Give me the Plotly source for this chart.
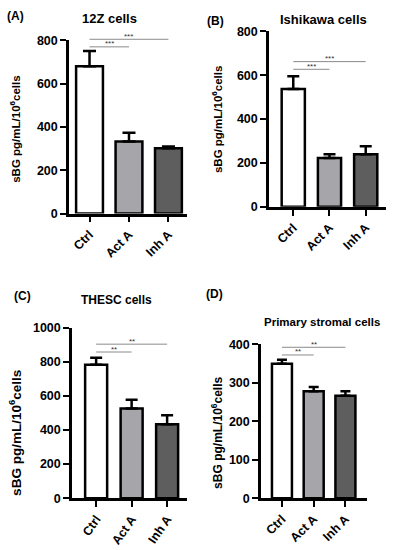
import plotly.graph_objects as go

categories = ["Ctrl", "Act A", "Inh A"]
bar_colors = ["#ffffff", "#a6a5aa", "#5e5e5e"]

panel_titles = ["12Z cells", "Ishikawa cells", "THESC cells", "Primary stromal cells"]
panel_labels = ["(A)", "(B)", "(C)", "(D)"]

means_a = [679, 333, 301]
errs_a = [71, 40, 9]
means_b = [537, 222, 240]
errs_b = [58, 18, 36]
means_c = [783, 526, 434]
errs_c = [40, 51, 52]
means_d = [349, 278, 266]
errs_d = [10.5, 11, 12]

yticks_a = [0, 200, 400, 600, 800]
yticks_b = [0, 200, 400, 600, 800]
yticks_c = [0, 200, 400, 600, 800, 1000]
yticks_d = [0, 100, 200, 300, 400]

sig_text = ["***", "***", "**", "**"]
sig_levels_a = [769, 804]
sig_levels_b = [627, 662]
sig_levels_c = [857, 903]
sig_levels_d = [372, 392]

ytitle = "sBG pg/mL/10<sup>6</sup>cells"
FONT = "Arial, Liberation Sans, sans-serif"

panels = [
    dict(means=means_a, errs=errs_a, ticks=yticks_a, sig=sig_levels_a,
         xdom=[69/394, 187/394], ydom=[1-212/550, 1-34/550], xr=[-0.52, 2.47],
         bw=0.68, cap=6.5, tangle=-45, title_xy=(109/394, 1-12/550, 13), lab_xy=(5/394, 1-9/550),
         yt_xy=(15/394, 1-126/550, 11.5)),
    dict(means=means_b, errs=errs_b, ticks=yticks_b, sig=sig_levels_b,
         xdom=[269/394, 386/394], ydom=[1-205/550, 1-25/550], xr=[-0.67, 2.56],
         bw=0.64, cap=6, tangle=-45, title_xy=(323/394, 1-13/550, 13), lab_xy=(205/394, 1-14/550),
         yt_xy=(217/394, 1-116/550, 11.5)),
    dict(means=means_c, errs=errs_c, ticks=yticks_c, sig=sig_levels_c,
         xdom=[72/394, 187/394], ydom=[1-504/550, 1-329/550], xr=[-0.68, 2.56],
         bw=0.62, cap=6, tangle=-55, title_xy=(116/394, 1-301/550, 12), lab_xy=(12/394, 1-297/550),
         yt_xy=(15/394, 1-437/550, 13.5)),
    dict(means=means_d, errs=errs_d, ticks=yticks_d, sig=sig_levels_d,
         xdom=[261/394, 367/394], ydom=[1-504/550, 1-346/550], xr=[-0.66, 2.68],
         bw=0.63, cap=5, tangle=-45, title_xy=(322/394, 1-323/550, 11.5), lab_xy=(204/394, 1-295/550),
         yt_xy=(217/394, 1-437/550, 12)),
]

fig = go.Figure()
annotations = []
shapes = []
layout = {}
for i, p in enumerate(panels):
    n = "" if i == 0 else str(i + 1)
    xa, ya = "x" + n, "y" + n
    top = p["ticks"][-1]
    fig.add_trace(go.Bar(
        x=list(range(len(categories))), y=p["means"], width=p["bw"],
        marker=dict(color=bar_colors, line=dict(color="black", width=2.5)),
        error_y=dict(type="data", array=p["errs"], arrayminus=[0] * len(p["errs"]),
                     symmetric=False, color="black", thickness=2.5, width=p["cap"]),
        xaxis=xa, yaxis=ya, showlegend=False, hoverinfo="skip",
    ))
    layout["xaxis" + n] = dict(
        domain=p["xdom"], anchor=ya, range=p["xr"], tickmode="array",
        tickvals=list(range(len(categories))), ticktext=categories, tickangle=p["tangle"],
        showline=True, linecolor="black", linewidth=2.5, ticks="outside",
        ticklen=6, tickwidth=2, tickcolor="black", showgrid=False, zeroline=False,
        tickfont=dict(family=FONT, size=12.5, color="black", weight="bold"),
    )
    layout["yaxis" + n] = dict(
        domain=p["ydom"], anchor=xa, range=[0, top], tickmode="array",
        tickvals=p["ticks"], showline=True, linecolor="black", linewidth=2.5,
        ticks="outside", ticklen=6, tickwidth=2, tickcolor="black",
        showgrid=False, zeroline=False,
        tickfont=dict(family=FONT, size=12.5, color="black", weight="bold"),
    )
    # significance brackets (y expressed as a fraction of the axis range)
    for j, lvl in enumerate(p["sig"]):
        target = j + 1
        frac = lvl / top
        shapes.append(dict(
            type="line", xref=xa, yref=ya + " domain", x0=0, x1=target, y0=frac, y1=frac,
            line=dict(color="#8a8a8a", width=1),
        ))
        annotations.append(dict(
            x=target / 2, y=frac, xref=xa, yref=ya + " domain", text=sig_text[i],
            showarrow=False, yanchor="middle", yshift=3,
            font=dict(family=FONT, size=8, color="#333"),
        ))
    tx, ty, ts = p["title_xy"]
    annotations.append(dict(x=tx, y=ty, xref="paper", yref="paper", text=panel_titles[i],
                            showarrow=False, xanchor="center", yanchor="middle",
                            font=dict(family=FONT, size=ts, color="black", weight="bold")))
    lx, ly = p["lab_xy"]
    annotations.append(dict(x=lx, y=ly, xref="paper", yref="paper", text=panel_labels[i],
                            showarrow=False, xanchor="left", yanchor="middle",
                            font=dict(family=FONT, size=12, color="black", weight="bold")))
    yx, yy, ys = p["yt_xy"]
    annotations.append(dict(x=yx, y=yy, xref="paper", yref="paper", text=ytitle,
                            showarrow=False, textangle=-90, xanchor="center", yanchor="middle",
                            font=dict(family=FONT, size=ys, color="black", weight="bold")))

fig.update_layout(
    width=394, height=550, margin=dict(l=0, r=0, t=0, b=0),
    paper_bgcolor="white", plot_bgcolor="white", hovermode=False,
    annotations=annotations, shapes=shapes, **layout,
)
fig.write_html("out.html", config={"displayModeBar": False},
               post_script="document.body.style.margin='0';")
